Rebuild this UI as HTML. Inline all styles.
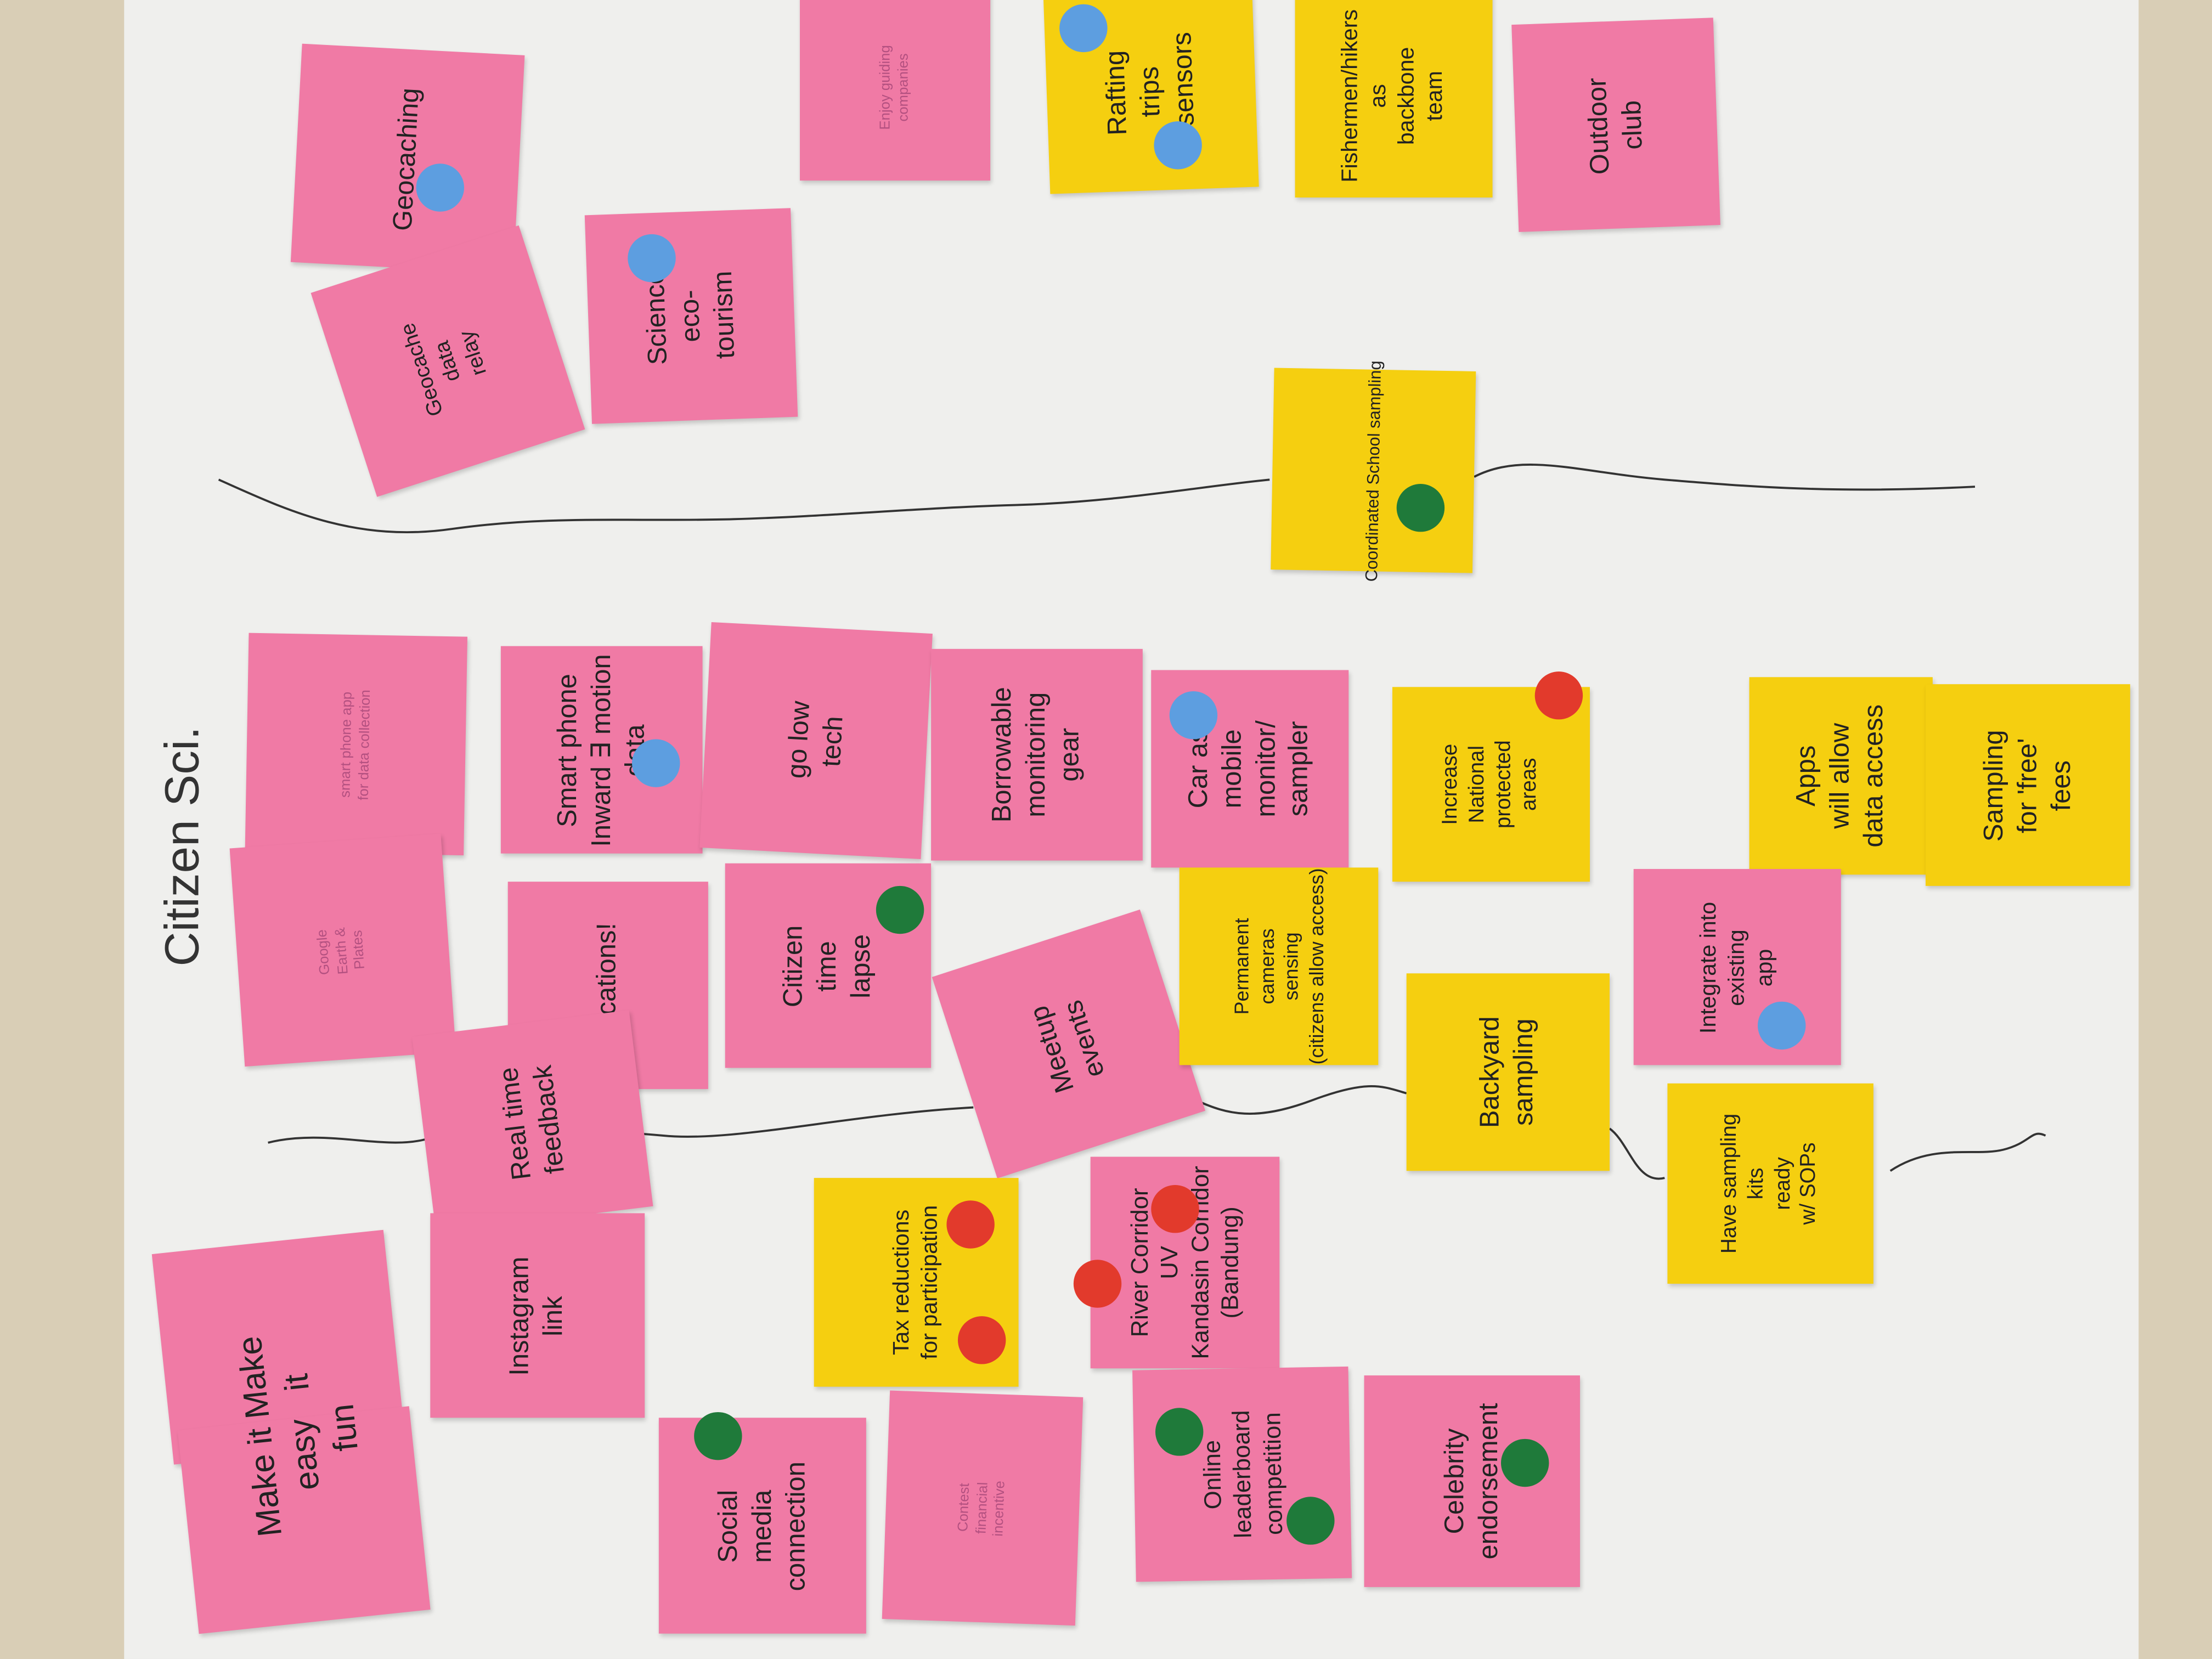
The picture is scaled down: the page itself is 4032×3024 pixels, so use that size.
<!DOCTYPE html>
<html><head><meta charset="utf-8"><style>
html,body{margin:0;padding:0;width:4032px;height:3024px;overflow:hidden;background:#d9ceb6;}
#s{position:absolute;left:0;top:0;width:1568px;height:1176px;transform:scale(2.5714);transform-origin:0 0;}
.paper{position:absolute;left:88px;top:0;width:1428px;height:1176px;background:#efefed;}
.n{position:absolute;box-shadow:1px 2px 3px rgba(0,0,0,.18);}
.p{background:#f07aa5;}
.y{background:#f5cf10;}
.t{position:absolute;left:50%;top:50%;transform:translate(-50%,-50%) rotate(-90deg);font-family:"Liberation Sans",sans-serif;color:#222;font-size:19px;line-height:1.25;text-align:center;white-space:nowrap;}
.f{color:#b35080;font-size:10px;}
.d{position:absolute;width:34px;height:34px;border-radius:50%;}
.b{background:#5d9ee0;}.r{background:#e23a2c;}.g{background:#1f7a3a;}
</style></head><body><div id="s">
<div class="paper"></div>
<svg style="position:absolute;left:0;top:0" width="1568" height="1176">
<path d="M155 340 C200 360 250 385 320 375 S450 370 520 368 S650 360 720 358 S850 345 900 340" stroke="#333" stroke-width="1.5" fill="none"/>
<path d="M1045 338 C1080 320 1120 335 1180 340 S1300 350 1400 345" stroke="#333" stroke-width="1.5" fill="none"/>
<path d="M190 810 C230 800 270 815 300 808 S420 800 470 805 S600 790 690 785" stroke="#333" stroke-width="1.5" fill="none"/>
<path d="M848 780 C870 790 890 795 930 780 S980 770 997 775" stroke="#333" stroke-width="1.5" fill="none"/>
<path d="M1141 800 C1155 810 1160 840 1180 835" stroke="#333" stroke-width="1.5" fill="none"/>
<path d="M1340 830 C1370 810 1400 820 1420 815 S1440 800 1450 805" stroke="#333" stroke-width="1.5" fill="none"/>
</svg>
<div style="position:absolute;left:130px;top:600px;transform:translate(-50%,-50%) rotate(-90deg);font-family:'Liberation Sans',sans-serif;font-size:34px;color:#333;white-space:nowrap;">Citizen Sci.</div>

<div class="n p" style="left:210px;top:35px;width:158px;height:155px;transform:rotate(3deg)"><div class="t">Geocaching</div></div>
<div class="d b" style="left:295px;top:116px"></div>
<div class="n p" style="left:240px;top:180px;width:155px;height:152px;transform:rotate(-18deg)"><div class="t" style="font-size:15px">Geocache<br>data<br>relay</div></div>
<div class="n p" style="left:417px;top:150px;width:146px;height:148px;transform:rotate(-2deg)"><div class="t">Science<br>eco-<br>tourism</div></div>
<div class="d b" style="left:445px;top:166px"></div>
<div class="n p" style="left:567px;top:-5px;width:135px;height:133px"><div class="t f">Enjoy guiding<br>companies</div></div>
<div class="n y" style="left:742px;top:-5px;width:148px;height:140px;transform:rotate(-2deg)"><div class="t">Rafting<br>trips<br>+ sensors</div></div>
<div class="d b" style="left:751px;top:3px"></div><div class="d b" style="left:818px;top:86px"></div>
<div class="n y" style="left:918px;top:-5px;width:140px;height:145px"><div class="t" style="font-size:16px">Fishermen/hikers<br>as<br>backbone<br>team</div></div>
<div class="n p" style="left:1074px;top:15px;width:143px;height:147px;transform:rotate(-2deg)"><div class="t">Outdoor<br>club</div></div>
<div class="n y" style="left:902px;top:262px;width:143px;height:143px;transform:rotate(1deg)"><div class="t" style="font-size:12px">Coordinated School sampling</div></div>
<div class="d g" style="left:990px;top:343px"></div>

<div class="n p" style="left:175px;top:450px;width:155px;height:155px;transform:rotate(1deg)"><div class="t f">smart phone app<br>for data collection</div></div>
<div class="n p" style="left:355px;top:458px;width:143px;height:147px"><div class="t">Smart phone<br>Inward ∃ motion<br>data</div></div>
<div class="d b" style="left:448px;top:524px"></div>
<div class="n p" style="left:500px;top:445px;width:157px;height:160px;transform:rotate(3deg)"><div class="t">go low<br>tech</div></div>
<div class="n p" style="left:660px;top:460px;width:150px;height:150px"><div class="t">Borrowable<br>monitoring<br>gear</div></div>
<div class="n p" style="left:816px;top:475px;width:140px;height:140px"><div class="t">Car as<br>mobile<br>monitor/<br>sampler</div></div>
<div class="d b" style="left:829px;top:490px"></div>
<div class="n y" style="left:987px;top:487px;width:140px;height:138px"><div class="t" style="font-size:15px">Increase<br>National<br>protected<br>areas</div></div>
<div class="d r" style="left:1088px;top:476px"></div>
<div class="n y" style="left:1240px;top:480px;width:130px;height:140px"><div class="t">Apps<br>will allow<br>data access</div></div>
<div class="n y" style="left:1365px;top:485px;width:145px;height:143px"><div class="t">Sampling<br>for 'free'<br>fees</div></div>

<div class="n p" style="left:168px;top:596px;width:150px;height:155px;transform:rotate(-4deg)"><div class="t f">Google<br>Earth &amp;<br>Plates</div></div>
<div class="n p" style="left:360px;top:625px;width:142px;height:147px"><div class="t">...lications!</div></div>
<div class="n p" style="left:514px;top:612px;width:146px;height:145px"><div class="t">Citizen<br>time<br>lapse</div></div>
<div class="d g" style="left:621px;top:628px"></div>
<div class="n p" style="left:680px;top:665px;width:155px;height:150px;transform:rotate(-18deg)"><div class="t">Meetup<br>events</div></div>
<div class="n y" style="left:836px;top:615px;width:141px;height:140px"><div class="t" style="font-size:14px">Permanent<br>cameras<br>sensing<br>(citizens allow access)</div></div>
<div class="n y" style="left:997px;top:690px;width:144px;height:140px"><div class="t">Backyard<br>sampling</div></div>
<div class="n p" style="left:1158px;top:616px;width:147px;height:139px"><div class="t" style="font-size:16px">Integrate into<br>existing<br>app</div></div>
<div class="d b" style="left:1246px;top:710px"></div>
<div class="n p" style="left:300px;top:725px;width:155px;height:140px;transform:rotate(-7deg)"><div class="t">Real time<br>feedback</div></div>
<div class="n y" style="left:1182px;top:768px;width:146px;height:142px"><div class="t" style="font-size:15px">Have sampling<br>kits<br>ready<br>w/ SOPs</div></div>

<div class="n p" style="left:115px;top:880px;width:165px;height:150px;transform:rotate(-6deg)"></div>
<div class="n p" style="left:133px;top:1005px;width:165px;height:145px;transform:rotate(-6deg)"></div>
<div style="position:absolute;left:130px;top:880px;width:170px;height:270px;transform:rotate(-6deg)"><div class="t" style="font-size:24px">Make it Make<br>easy &nbsp; it<br>fun</div></div>
<div class="n p" style="left:305px;top:860px;width:152px;height:145px"><div class="t">Instagram<br>link</div></div>
<div class="n y" style="left:577px;top:835px;width:145px;height:148px"><div class="t" style="font-size:16px">Tax reductions<br>for participation</div></div>
<div class="d r" style="left:671px;top:851px"></div><div class="d r" style="left:679px;top:933px"></div>
<div class="n p" style="left:773px;top:820px;width:134px;height:150px"><div class="t" style="font-size:17px">River Corridor<br>UV<br>Kandasin Corridor<br>(Bandung)</div></div>
<div class="d r" style="left:761px;top:893px"></div><div class="d r" style="left:816px;top:840px"></div>
<div class="n p" style="left:467px;top:1005px;width:147px;height:153px"><div class="t">Social<br>media<br>connection</div></div>
<div class="d g" style="left:492px;top:1001px"></div>
<div class="n p" style="left:628px;top:988px;width:137px;height:162px;transform:rotate(2deg)"><div class="t f">Contest<br>financial<br>incentive</div></div>
<div class="n p" style="left:804px;top:970px;width:153px;height:150px;transform:rotate(-1deg)"><div class="t" style="font-size:17px">Online<br>leaderboard<br>competition</div></div>
<div class="d g" style="left:819px;top:998px"></div><div class="d g" style="left:912px;top:1061px"></div>
<div class="n p" style="left:967px;top:975px;width:153px;height:150px"><div class="t">Celebrity<br>endorsement</div></div>
<div class="d g" style="left:1064px;top:1020px"></div>
</div></body></html>
